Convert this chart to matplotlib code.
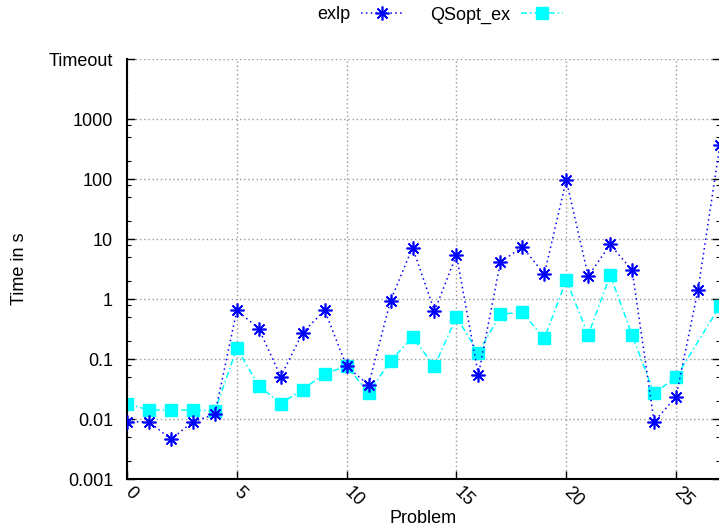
#!/usr/bin/env python3
"""exlp vs. QSopt_ex solve times per problem, log-scale, gnuplot look."""
import matplotlib

matplotlib.use("Agg")  # headless

import matplotlib.pyplot as plt
from matplotlib.ticker import FixedLocator, NullFormatter

plt.rcParams["font.family"] = ["Liberation Sans", "DejaVu Sans"]

# values
EXLP_X = list(range(28))
EXLP_T = [0.009, 0.009, 0.0046, 0.009, 0.012, 0.65, 0.32, 0.051, 0.275, 0.65,
          0.075, 0.037, 0.94, 7.2, 0.63, 5.4, 0.054, 4.1, 7.4, 2.6,
          96.0, 2.4, 8.1, 3.0, 0.009, 0.0235, 1.42, 375.0]
# QSopt_ex has no point at problem 26
QS_X = list(range(26)) + [27]
QS_T = [0.018, 0.0141, 0.0141, 0.0141, 0.0136, 0.15, 0.036, 0.018, 0.031, 0.057,
        0.076, 0.0274, 0.093, 0.23, 0.076, 0.50, 0.127, 0.56, 0.60, 0.22,
        2.07, 0.25, 2.5, 0.25, 0.0268, 0.0496, 0.77]

Y_TICKS = [0.001, 0.01, 0.1, 1, 10, 100, 1000, 10000]
Y_LABELS = ["0.001", "0.01", "0.1", "1", "10", "100", "1000", "Timeout"]
X_TICKS = [0, 5, 10, 15, 20, 25]

W, H = 719, 527
FS = 13


def main():
    fig = plt.figure(figsize=(W / 100, H / 100), dpi=100)
    # axes box in pixels: left 127, right ~720 (just off the picture), top 59, bottom 479
    ax = fig.add_axes([127 / W, (H - 479) / H, (720 - 127) / W, (479 - 59) / H])

    ax.plot(EXLP_X, EXLP_T, color="#0000ff", lw=1.1, ls=(0, (1, 2.2)),
            marker=(8, 2, 0), ms=10, mew=1.2, label="exlp", zorder=3)
    ax.plot(QS_X, QS_T, color="#00ffff", lw=1.1, ls=(0, (4, 2, 1, 2)),
            marker="s", ms=8.5, mec="#00ffff", label="QSopt_ex", zorder=2)

    ax.set_yscale("log")
    ax.set_xlim(0, 27)
    ax.set_ylim(1e-3, 1e4)

    ax.yaxis.set_major_locator(FixedLocator(Y_TICKS))
    ax.set_yticklabels(Y_LABELS)
    minors = [m * 10.0 ** e for e in range(-3, 3) for m in (2, 5, 8)]
    ax.yaxis.set_minor_locator(FixedLocator(minors))
    ax.yaxis.set_minor_formatter(NullFormatter())

    ax.set_xticks(X_TICKS)
    ax.set_xticklabels([str(v) for v in X_TICKS], rotation=-45,
                       rotation_mode="anchor", ha="left", va="center")

    ax.tick_params(axis="both", which="major", direction="in", length=6,
                   width=1, labelsize=FS, pad=10, right=True, color="black")
    ax.tick_params(axis="y", which="minor", direction="in", length=3,
                   width=0.8, right=True)
    ax.tick_params(axis="x", which="major", pad=8)

    # gnuplot border here: only left + bottom, ticks mirrored on the right
    for side in ("top", "right"):
        ax.spines[side].set_visible(False)
    for side in ("left", "bottom"):
        ax.spines[side].set_linewidth(1.5)

    ax.grid(True, which="major", color="#9a9a9a", ls=(0, (1, 2)), lw=1)

    ax.set_xlabel("Problem", fontsize=FS, labelpad=0)
    ax.set_ylabel("Time in s", fontsize=FS, labelpad=15)

    fig.legend(loc="center", bbox_to_anchor=(440 / W, 1 - 15 / H), ncol=2,
               frameon=False, markerfirst=False, fontsize=FS,
               handlelength=2.3, columnspacing=1.5, handletextpad=0.6)

    fig.savefig("out.png", dpi=100)
    plt.close(fig)


if __name__ == "__main__":
    main()
